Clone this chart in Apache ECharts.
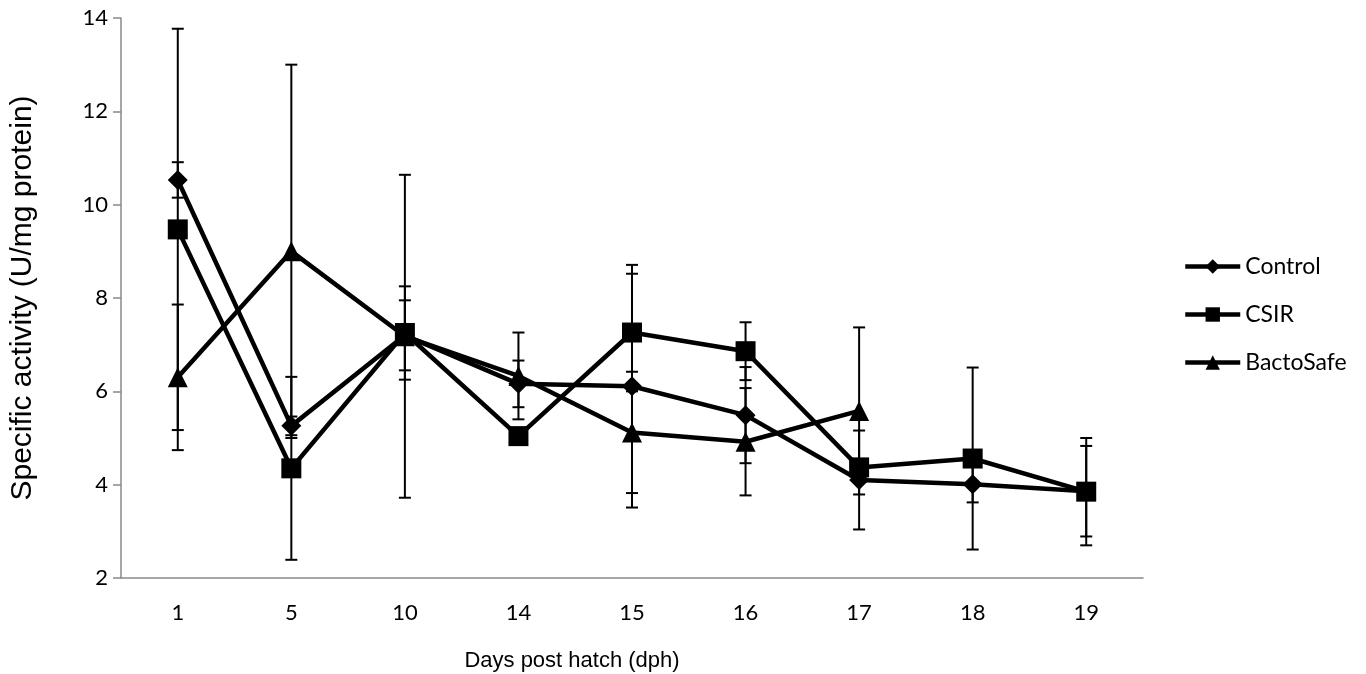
<!DOCTYPE html>
<html>
<head>
<meta charset="utf-8">
<script src="https://cdn.jsdelivr.net/npm/echarts@6/dist/echarts.min.js"></script>
<style>
html,body{margin:0;padding:0;background:#fff;}
#chart{width:1366px;height:674px;}
</style>
</head>
<body>
<div id="chart"></div>
<script>
const categories = ['1', '5', '10', '14', '15', '16', '17', '18', '19'];
const control    = [10.53, 5.26, 7.20, 6.16, 6.11, 5.49, 4.10, 4.01, 3.86];
const controlErr = [0.38, 0.20, 0.75, 0.50, 2.60, 1.03, 1.06, 0.39, 0.97];
const csir       = [9.47, 4.35, 7.25, 5.04, 7.26, 6.86, 4.37, 4.56, 3.85];
const csirErr    = [4.30, 1.96, 1.00, 0.15, 1.26, 0.62, 0.15, 1.95, 1.15];
const bacto      = [6.30, 9.00, 7.18, 6.33, 5.12, 4.92, 5.58, null, null];
const bactoErr   = [1.56, 4.00, 3.46, 0.93, 1.30, 1.15, 1.79, null, null];
const yTicks = { min: 2, max: 14, interval: 2 };

function errData(vals, errs) {
  const out = [];
  vals.forEach((v, i) => { if (v != null && errs[i] != null) out.push([i, v, errs[i]]); });
  return out;
}
function renderErr(params, api) {
  const i = api.value(0), v = api.value(1), e = api.value(2);
  const t = api.coord([i, v + e]), b = api.coord([i, v - e]);
  const w = 6, st = { stroke: '#000', lineWidth: 2 };
  return { type: 'group', children: [
    { type: 'line', shape: { x1: t[0], y1: t[1], x2: b[0], y2: b[1] }, style: st },
    { type: 'line', shape: { x1: t[0] - w, y1: t[1], x2: t[0] + w, y2: t[1] }, style: st },
    { type: 'line', shape: { x1: b[0] - w, y1: b[1], x2: b[0] + w, y2: b[1] }, style: st }
  ]};
}
function lineSeries(name, data, symbol, size) {
  return {
    name: name, type: 'line', data: data, symbol: symbol, symbolSize: size,
    itemStyle: { color: '#000' }, lineStyle: { color: '#000', width: 4.5 },
    connectNulls: false, z: 3
  };
}
function errSeries(name, vals, errs) {
  return { name: name, type: 'custom', renderItem: renderErr, data: errData(vals, errs),
    encode: { x: 0, y: 1 }, z: 2, silent: true };
}

const chart = echarts.init(document.getElementById('chart'));
chart.setOption({
  animation: false,
  backgroundColor: '#fff',
  grid: { left: 117, right: 223, top: 18, bottom: 96 },
  legend: {
    data: ['Control', 'CSIR', 'BactoSafe'],
    orient: 'vertical', left: 1183, top: 255, padding: 0,
    itemWidth: 55, itemHeight: 18, itemGap: 25,
    lineStyle: { width: 4.5, color: '#000' },
    textStyle: { fontFamily: 'Lato', fontSize: 23, color: '#000' }
  },
  graphic: [{
    type: 'text', x: 572, y: 661,
    style: { text: 'Days post hatch (dph)', textAlign: 'center', textVerticalAlign: 'middle',
      fontFamily: 'Liberation Sans', fontSize: 22, fill: '#000' }
  }],
  xAxis: {
    type: 'category', data: categories,
    axisLine: { lineStyle: { color: '#898989', width: 1.5 } },
    axisTick: { length: 8, lineStyle: { color: '#898989', width: 1.5 } },
    axisLabel: { fontFamily: 'Lato', fontSize: 22, color: '#000', margin: 24 }
  },
  yAxis: {
    type: 'value', min: yTicks.min, max: yTicks.max, interval: yTicks.interval,
    splitLine: { show: false },
    axisLine: { show: true, lineStyle: { color: '#898989', width: 1.5 } },
    axisTick: { show: true, length: 8, lineStyle: { color: '#898989', width: 1.5 } },
    axisLabel: { fontFamily: 'Lato', fontSize: 22, color: '#000', margin: 13 },
    name: 'Specific activity (U/mg protein)', nameLocation: 'middle', nameGap: 83, nameRotate: 90,
    nameTextStyle: { fontFamily: 'Liberation Sans', fontSize: 30, color: '#000' }
  },
  series: [
    errSeries('Control err', control, controlErr),
    errSeries('CSIR err', csir, csirErr),
    errSeries('BactoSafe err', bacto, bactoErr),
    lineSeries('Control', control, 'diamond', 20),
    lineSeries('CSIR', csir, 'rect', 20),
    lineSeries('BactoSafe', bacto, 'triangle', 20)
  ]
});
</script>
</body>
</html>
